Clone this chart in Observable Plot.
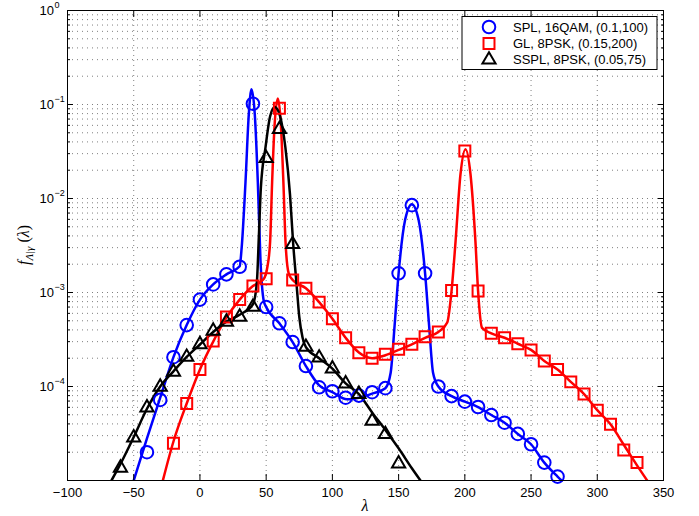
<!DOCTYPE html>
<html>
<head>
<meta charset="utf-8">
<script src="https://cdn.jsdelivr.net/npm/d3@7"></script>
<script src="https://cdn.jsdelivr.net/npm/@observablehq/plot@0.6"></script>
<style>
  html, body { margin: 0; padding: 0; background: #fff; }
  #chart svg { display: block; }
</style>
</head>
<body>
<div id="chart"></div>
<script>
// Axis ticks
const xTicks = [-100, -50, 0, 50, 100, 150, 200, 250, 300, 350];
const yMajor = [1e-5, 1e-4, 1e-3, 1e-2, 1e-1, 1];
const yLabelled = [1e-4, 1e-3, 1e-2, 1e-1, 1];
const yMinor = [
  2e-5, 3e-5, 4e-5, 5e-5, 6e-5, 7e-5, 8e-5, 9e-5,
  2e-4, 3e-4, 4e-4, 5e-4, 6e-4, 7e-4, 8e-4, 9e-4,
  2e-3, 3e-3, 4e-3, 5e-3, 6e-3, 7e-3, 8e-3, 9e-3,
  2e-2, 3e-2, 4e-2, 5e-2, 6e-2, 7e-2, 8e-2, 9e-2,
  2e-1, 3e-1, 4e-1, 5e-1, 6e-1, 7e-1, 8e-1, 9e-1
];

// Series labels
const seriesLabels = ["SPL, 16QAM, (0.1,100)", "GL, 8PSK, (0.15,200)", "SSPL, 8PSK, (0.05,75)"];

// SPL, 16QAM: simulated points
const splSimX = [-40,-30,-20,-10,0,10,20,30,40,50,60,70,80,90,100,110,120,130,140,150,160,170,180,190,200,210,220,230,240,250,260,270];
const splSimY = [2.0e-5,7.2e-5,2.05e-4,4.5e-4,8.4e-4,1.22e-3,1.56e-3,1.88e-3,0.102,7.0e-4,4.7e-4,2.97e-4,1.65e-4,9.8e-5,8.9e-5,7.6e-5,8.0e-5,8.7e-5,9.6e-5,1.6e-3,8.5e-3,1.6e-3,1.0e-4,7.9e-5,6.9e-5,6.05e-5,4.97e-5,4.12e-5,3.13e-5,2.43e-5,1.55e-5,1.1e-5];
// SPL, 16QAM: analytical density
const splCurveX = [-50,-40,-30,-20,-10,0,10,20,30,31.5,34.4,36.9,38.9,41.4,43.7,45.7,48.2,50,60,70,80,90,100,111,120,130,140,144,147,150,155,160,165,170,173,176,180,190,200,210,220,230,240,250,260,270,273];
const splCurveY = [1.0e-5,2.8e-5,7.6e-5,2.05e-4,4.5e-4,8.4e-4,1.22e-3,1.56e-3,1.9e-3,3.0e-3,1.5e-2,7.9e-2,0.145,7.9e-2,1.5e-2,2.2e-3,8.1e-4,7.0e-4,4.7e-4,2.97e-4,1.65e-4,1.03e-4,8.7e-5,7.3e-5,7.6e-5,8.4e-5,9.6e-5,1.4e-4,4.5e-4,1.6e-3,6.0e-3,8.7e-3,6.0e-3,1.6e-3,4.5e-4,1.4e-4,1.0e-4,7.9e-5,6.9e-5,6.05e-5,4.97e-5,4.12e-5,3.13e-5,2.43e-5,1.55e-5,1.1e-5,1.0e-5];

// GL, 8PSK: simulated points
const glSimX = [-20,-10,0,10,20,30,40,50,60,70,80,90,100,110,120,130,140,150,160,170,180,190,200,210,220,230,240,250,260,270,280,290,300,310,320,330];
const glSimY = [2.49e-5,6.6e-5,1.52e-4,3.05e-4,5.5e-4,8.4e-4,1.17e-3,1.4e-3,0.091,1.36e-3,1.11e-3,7.9e-4,5.27e-4,3.3e-4,2.29e-4,2.0e-4,2.2e-4,2.49e-4,2.81e-4,3.39e-4,3.8e-4,1.05e-3,0.032,1.04e-3,3.68e-4,3.3e-4,2.85e-4,2.45e-4,1.87e-4,1.52e-4,1.12e-4,8.3e-5,5.6e-5,3.96e-5,2.11e-5,1.55e-5];
// GL, 8PSK: analytical density
const glCurveX = [-28,-20,-10,0,10,20,30,40,48,51,53,54.5,56.5,58.8,61,63,64.6,67,70,80,90,100,110,120,130,140,150,160,170,180,186.7,190,193,196.7,200.5,204.3,208,210,213,220,230,240,250,260,270,280,290,300,310,320,330,337.7];
const glCurveY = [1.0e-5,2.6e-5,6.6e-5,1.52e-4,3.0e-4,5.4e-4,8.4e-4,1.17e-3,1.38e-3,1.9e-3,3.5e-3,1.5e-2,6.5e-2,0.116,6.5e-2,1.5e-2,3.5e-3,1.6e-3,1.36e-3,1.11e-3,7.9e-4,5.27e-4,3.3e-4,2.3e-4,2.0e-4,2.15e-4,2.45e-4,2.8e-4,3.3e-4,3.8e-4,4.8e-4,1.05e-3,3.5e-3,1.8e-2,3.35e-2,1.8e-2,3.5e-3,1.04e-3,4.2e-4,3.68e-4,3.3e-4,2.85e-4,2.45e-4,1.87e-4,1.52e-4,1.12e-4,8.3e-5,5.6e-5,3.96e-5,2.4e-5,1.45e-5,1.0e-5];

// SSPL, 8PSK: simulated points
const ssplSimX = [-60,-50,-40,-30,-20,-10,0,10,20,30,40,50,60,70,80,90,100,110,120,130,140,150];
const ssplSimY = [1.36e-5,2.85e-5,5.95e-5,9.9e-5,1.43e-4,2.06e-4,2.81e-4,3.9e-4,4.86e-4,5.5e-4,7.0e-4,0.0268,0.0545,3.26e-3,2.63e-4,2.02e-4,1.55e-4,1.07e-4,8.3e-5,4.3e-5,3.1e-5,1.51e-5];
// SSPL, 8PSK: analytical density
const ssplCurveX = [-66.8,-60,-50,-40,-30,-20,-10,0,10,20,30,40,43,44.5,46,49.5,53,56.5,60.5,64.5,68,70.4,73,75,77.5,80,90,100,110,120,130,140,150,160,166.5];
const ssplCurveY = [1.0e-5,1.5e-5,2.9e-5,5.8e-5,1.0e-4,1.45e-4,2.06e-4,2.8e-4,3.8e-4,4.9e-4,5.8e-4,7.5e-4,1.3e-3,4.0e-3,1.3e-2,3.5e-2,7.5e-2,9.4e-2,7.5e-2,3.5e-2,1.1e-2,3.3e-3,1.2e-3,5.5e-4,3.3e-4,2.63e-4,2.0e-4,1.55e-4,1.08e-4,8.3e-5,5.3e-5,3.45e-5,2.2e-5,1.35e-5,1.0e-5];

const pts = (xs, ys) => xs.map((x, i) => ({x, y: ys[i]}));

const series = [
  {label: seriesLabels[0], color: "#0000ff", symbol: "circle", r: 6.3, sim: pts(splSimX, splSimY), curve: pts(splCurveX, splCurveY)},
  {label: seriesLabels[1], color: "#ff0000", symbol: "square", r: 6.2, sim: pts(glSimX, glSimY), curve: pts(glCurveX, glCurveY)},
  {label: seriesLabels[2], color: "#000000", symbol: "triangle", r: 4.9, sim: pts(ssplSimX, ssplSimY), curve: pts(ssplCurveX, ssplCurveY)}
];

const W = 699, H = 516;
const mL = 67, mR = 36, mT = 10, mB = 36;
const minus = n => (n < 0 ? "\u2212" + Math.abs(n) : String(n));
const blank = () => "";
const gridStyle = {stroke: "#000", strokeOpacity: 0.5, strokeWidth: 1, strokeDasharray: "1,4"};

const chart = Plot.plot({
  width: W,
  height: H,
  marginLeft: mL, marginRight: mR, marginTop: mT, marginBottom: mB,
  style: {fontFamily: "'Liberation Sans', Arial, Helvetica, sans-serif", fontSize: "13px", color: "#000", background: "#fff", overflow: "visible"},
  x: {domain: [-100, 350], label: null},
  y: {type: "log", domain: [1e-5, 1], label: null},
  marks: [
    Plot.gridX(xTicks.slice(1, -1), gridStyle),
    Plot.gridY(yMinor.concat(yMajor.slice(1, -1)), gridStyle),
    ...series.map(s => Plot.line(s.curve, {x: "x", y: "y", stroke: s.color, strokeWidth: 2.5, curve: "monotone-x", clip: true})),
    ...series.map(s => Plot.dot(s.sim, {x: "x", y: "y", symbol: s.symbol, r: s.r, stroke: s.color, strokeWidth: 2, fill: "none"})),
    Plot.frame({stroke: "#000", strokeWidth: 1}),
    // tick marks pointing inward on all four sides
    Plot.axisX(xTicks, {anchor: "bottom", tickSize: -6, tickFormat: blank, label: null}),
    Plot.axisX(xTicks, {anchor: "top", tickSize: -6, tickFormat: blank, label: null}),
    Plot.axisY(yMajor, {anchor: "left", tickSize: -6, tickFormat: blank, label: null}),
    Plot.axisY(yMinor, {anchor: "left", tickSize: -3, tickFormat: blank, label: null}),
    Plot.axisY(yMajor, {anchor: "right", tickSize: -6, tickFormat: blank, label: null}),
    Plot.axisY(yMinor, {anchor: "right", tickSize: -3, tickFormat: blank, label: null}),
    // x tick labels
    Plot.axisX(xTicks, {anchor: "bottom", tickSize: 0, tickPadding: 7, tickFormat: minus, label: null, fontSize: 13}),
    // y tick labels as 10 with a raised exponent
    Plot.text(yLabelled, {y: d => d, frameAnchor: "left", text: () => "10", textAnchor: "end", dx: -13.5, fontSize: 13, lineAnchor: "middle"}),
    Plot.text(yLabelled, {y: d => d, frameAnchor: "left", text: d => minus(Math.round(Math.log10(d))), textAnchor: "start", dx: -13, dy: -5, fontSize: 9, lineAnchor: "middle"})
  ]
});

document.getElementById("chart").appendChild(chart);

const svg = d3.select(chart);
const fx0 = mL, fx1 = W - mR, fy0 = mT, fy1 = H - mB;

// x axis title
svg.append("text")
  .attr("x", (fx0 + fx1) / 2).attr("y", fy1 + 31)
  .attr("text-anchor", "middle")
  .attr("font-family", "'Liberation Serif', 'DejaVu Serif', serif")
  .attr("font-style", "italic")
  .attr("font-size", 16)
  .text("λ");

// y axis title: f_{Λ|γ}(λ)
const yt = svg.append("text")
  .attr("transform", `translate(29,${(fy0 + fy1) / 2}) rotate(-90)`)
  .attr("text-anchor", "middle")
  .attr("font-family", "'Liberation Serif', 'DejaVu Serif', serif")
  .attr("font-size", 16);
yt.append("tspan").attr("font-style", "italic").text("f");
yt.append("tspan").attr("font-size", 11).attr("dy", 4).attr("font-style", "italic").text("Λ|γ");
yt.append("tspan").attr("dy", -4).text(" (");
yt.append("tspan").attr("font-style", "italic").text("λ");
yt.append("tspan").text(")");

// legend box in the upper right corner of the frame
const lg = svg.append("g")
  .attr("font-family", "'Liberation Sans', Arial, Helvetica, sans-serif")
  .attr("font-size", 13)
  .attr("text-anchor", "start");
lg.append("rect")
  .attr("x", fx1 - 201).attr("y", fy0 + 6.5)
  .attr("width", 195).attr("height", 53)
  .attr("fill", "#fff").attr("stroke", "#000").attr("stroke-width", 1);
const symbolTypes = {circle: d3.symbolCircle, square: d3.symbolSquare, triangle: d3.symbolTriangle};
series.forEach((s, i) => {
  const cy = fy0 + 17 + i * 16.4;
  lg.append("path")
    .attr("d", d3.symbol(symbolTypes[s.symbol], Math.PI * s.r * s.r)())
    .attr("transform", `translate(${fx1 - 174},${cy})`)
    .attr("fill", "none").attr("stroke", s.color).attr("stroke-width", 2);
  lg.append("text")
    .attr("x", fx1 - 150).attr("y", cy).attr("dy", "0.35em")
    .attr("text-anchor", "start")
    .text(s.label);
});
</script>
</body>
</html>
